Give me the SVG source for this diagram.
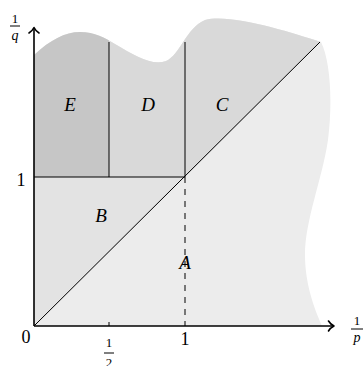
<svg xmlns="http://www.w3.org/2000/svg" width="364" height="366" viewBox="0 0 364 366">
<style>
.ln{stroke:#000;stroke-width:1;fill:none}
.ax{stroke:#000;stroke-width:1.6;fill:none}
.ah{stroke:#000;stroke-width:1.6;fill:none;stroke-linecap:round;stroke-linejoin:round}
.lbl{font-family:"Liberation Serif",serif;font-style:italic;font-size:19px;text-anchor:middle}
.num{font-family:"Liberation Serif",serif;font-size:18px;text-anchor:middle}
.sm{font-family:"Liberation Serif",serif;font-size:13px;text-anchor:middle}
.smi{font-family:"Liberation Serif",serif;font-style:italic;font-size:14px;text-anchor:middle}
</style>
<defs>
<clipPath id="reg">
<path d="M34,326 L34,55 C50,40 65,32 80,32 C95,32 105,38 115,44 C135,56 152,66 166,61 C180,55 186,28 205,20 C230,13 290,32 321,42 C330,60 333,100 328,140 C322,180 305,220 305,255 C305,285 315,310 322,326 Z"/>
</clipPath>
</defs>
<g id="regions">
<g id="A"><path clip-path="url(#reg)" fill="#ececec" d="M0,0 H364 V366 H0 Z"/></g>
<g id="B"><path fill="#e3e3e3" d="M34,326 L34,177 L185,177 Z"/></g>
<g id="CD"><path clip-path="url(#reg)" fill="#d9d9d9" d="M109,0 L109,177 L185,177 L362,0 Z"/></g>
<g id="E"><path clip-path="url(#reg)" fill="#c6c6c6" d="M34,0 H109 V177 H34 Z"/></g>
</g>
<g id="connectors">
<path class="ln" d="M34,326 L320,42"/>
<path class="ln" d="M34,177 H185"/>
<path class="ln" d="M109,42 V177"/>
<path class="ln" d="M185,42 V177"/>
<path class="ln" d="M185,177 V326" stroke-dasharray="6,6"/>
<path class="ln" d="M109,326 V322"/>
<path class="ax" d="M34,326 V28"/>
<path class="ax" d="M34,326 H334"/>
<path class="ah" d="M29,33 C31.5,31.5 33,29.5 34,27.5 C35,29.5 36.5,31.5 39,33"/>
<path class="ah" d="M328.5,321 C330,323.5 332,325 334,326 C332,327 330,328.5 328.5,331"/>
</g>
<g id="labels">
<text class="lbl" x="70" y="111">E</text>
<text class="lbl" x="148" y="111">D</text>
<text class="lbl" x="222" y="111">C</text>
<text class="lbl" x="101" y="222">B</text>
<text class="lbl" x="185" y="269">A</text>
<text class="num" x="26" y="343">0</text>
<text class="num" x="21" y="186">1</text>
<text class="num" x="185" y="345">1</text>
<text class="sm" x="109" y="347">1</text>
<path class="ln" d="M104,353 H114" stroke-width="1.2"/>
<text class="sm" x="109" y="367">2</text>
<text class="sm" x="15" y="23">1</text>
<path class="ln" d="M10,26 H20" stroke-width="1.2"/>
<text class="smi" x="15" y="40">q</text>
<text class="sm" x="357" y="325">1</text>
<path class="ln" d="M351,329 H363" stroke-width="1.2"/>
<text class="smi" x="357" y="342">p</text>
</g>
</svg>
